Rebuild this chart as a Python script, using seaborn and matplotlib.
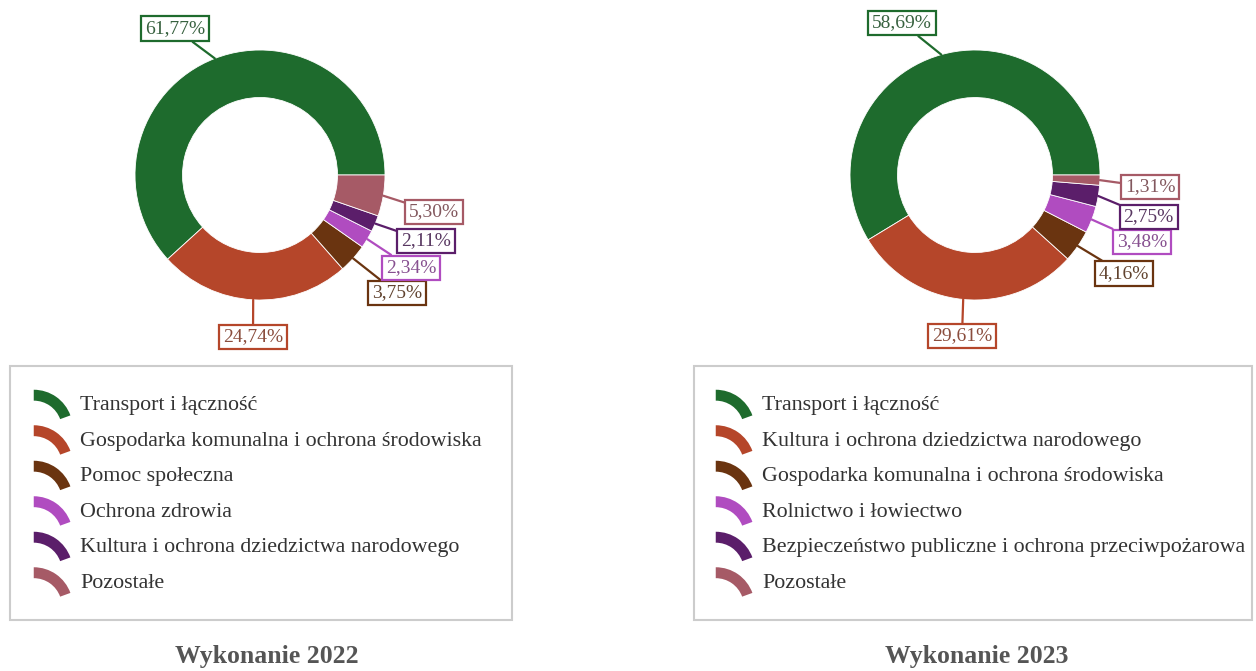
import numpy as np
import matplotlib
matplotlib.use("Agg")
import matplotlib.pyplot as plt
import matplotlib.colors as mcolors
from matplotlib.patches import Wedge, Rectangle
from matplotlib.legend_handler import HandlerPatch
import seaborn as sns

sns.set_theme(style="white")
plt.rcParams['font.family'] = ['Liberation Serif', 'DejaVu Serif']

# dane
labels_2022 = ["Transport i łączność",
               "Gospodarka komunalna i ochrona środowiska",
               "Pomoc społeczna",
               "Ochrona zdrowia",
               "Kultura i ochrona dziedzictwa narodowego",
               "Pozostałe"]
values_2022 = [61.77, 24.74, 3.75, 2.34, 2.11, 5.30]

labels_2023 = ["Transport i łączność",
               "Kultura i ochrona dziedzictwa narodowego",
               "Gospodarka komunalna i ochrona środowiska",
               "Rolnictwo i łowiectwo",
               "Bezpieczeństwo publiczne i ochrona przeciwpożarowa",
               "Pozostałe"]
values_2023 = [58.69, 29.61, 4.16, 3.48, 2.75, 1.31]

titles = ["Wykonanie 2022", "Wykonanie 2023"]

palette = sns.color_palette(["#1e6b2d", "#b5462a", "#6a3410", "#b04cc0", "#5b1e6a", "#a65a66"])

# pozycje etykiet (wsp. danych, promien = 1)
label_pos_2022 = [(-0.68, 1.17), (-0.056, -1.296), (1.096, -0.944),
                  (1.208, -0.744), (1.328, -0.528), (1.392, -0.296)]
label_pos_2023 = [(-0.584, 1.216), (-0.104, -1.288), (1.19, -0.79),
                  (1.336, -0.536), (1.39, -0.336), (1.40, -0.096)]

W, H = 1256, 671
fig = plt.figure(figsize=(W / 100, H / 100), dpi=100)


def px_axes(x0, y0, w, h):
    return fig.add_axes([x0 / W, 1 - (y0 + h) / H, w / W, h / H])


class ArcHandler(HandlerPatch):
    def create_artists(self, legend, orig_handle, xdescent, ydescent,
                       width, height, fontsize, trans):
        t1 = 20
        r = width / np.cos(np.radians(t1))
        cy = height / 2 - r * (1 + np.sin(np.radians(t1))) / 2 - ydescent
        p = Wedge((-xdescent, cy), r, t1, 90, width=0.28 * r,
                  facecolor=orig_handle.get_facecolor(), edgecolor="none",
                  transform=trans)
        return [p]


def text_color(c):
    c = np.array(mcolors.to_rgb(c))
    g = np.array(mcolors.to_rgb("#555555"))
    return tuple(0.55 * c + 0.45 * g)


def donut(ax, values, label_pos):
    wedges, _ = ax.pie(values, colors=palette, startangle=0, counterclock=True,
                       radius=1, wedgeprops=dict(width=0.38, edgecolor="white", linewidth=0.6))
    total = sum(values)
    start = 0
    for i, (w, v) in enumerate(zip(wedges, values)):
        ang = start + v / total * 180
        start += v / total * 360
        xy = (np.cos(np.radians(ang)), np.sin(np.radians(ang)))
        txt = f"{v:.2f}%".replace(".", ",")
        ax.annotate(txt, xy=xy, xytext=label_pos[i], ha="center", va="center",
                    fontsize=14, color=text_color(palette[i]),
                    bbox=dict(boxstyle="square,pad=0.2", fc="white", ec=palette[i], lw=1.6),
                    arrowprops=dict(arrowstyle="-", color=palette[i], lw=1.6,
                                    connectionstyle="arc3", shrinkA=0, shrinkB=0))
    return wedges


# lewy wykres
ax1 = px_axes(10, 0, 500, 360)
w1 = donut(ax1, values_2022, label_pos_2022)
ax1.set_xlim(-2.0, 2.0)
ax1.set_ylim(-1.48, 1.4)
ax1.set_aspect("equal")
ax1.axis("off")

# prawy wykres
ax2 = px_axes(700, 0, 550, 360)
w2 = donut(ax2, values_2023, label_pos_2023)
ax2.set_xlim(-2.2, 2.2)
ax2.set_ylim(-1.48, 1.4)
ax2.set_aspect("equal")
ax2.axis("off")

# ramki legend
for (x0, y0, w, h) in [(10, 366, 502, 254), (694, 366, 558, 254)]:
    fig.patches.append(Rectangle((x0 / W, 1 - (y0 + h) / H), w / W, h / H,
                                 transform=fig.transFigure, fill=False,
                                 edgecolor="#cccccc", linewidth=1.5))

leg_kw = dict(frameon=False, fontsize=15.8, labelspacing=0.6, handlelength=1.67,
              handleheight=1.0, handletextpad=0.45, loc="upper left",
              bbox_transform=fig.transFigure, labelcolor="#333333",
              handler_map={matplotlib.patches.Wedge: ArcHandler()})
fig.legend(w1, labels_2022, bbox_to_anchor=(14 / W, 1 - 373 / H), **leg_kw)
fig.legend(w2, labels_2023, bbox_to_anchor=(696 / W, 1 - 373 / H), **leg_kw)

# tytuly
fig.text(267 / W, 1 - 657 / H, titles[0], ha="center", va="center",
         fontsize=18.5, fontweight="bold", color="#555555")
fig.text(977 / W, 1 - 657 / H, titles[1], ha="center", va="center",
         fontsize=18.5, fontweight="bold", color="#555555")

fig.savefig("out.png", dpi=100, facecolor="white")
